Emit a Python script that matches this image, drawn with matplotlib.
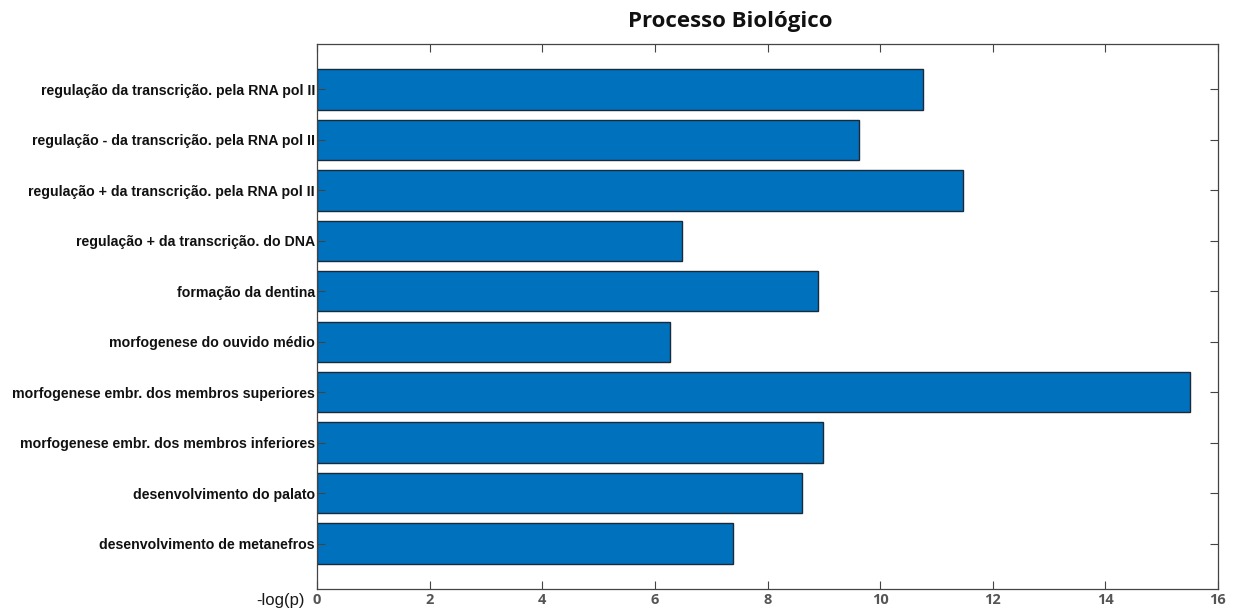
import matplotlib
matplotlib.use('Agg')
import matplotlib.pyplot as plt
import numpy as np


titulo = 'Processo Biológico'

termos = ['regulação da transcrição. pela RNA pol II',
          'regulação - da transcrição. pela RNA pol II',
          'regulação + da transcrição. pela RNA pol II',
          'regulação + da transcrição. do DNA',
          'formação da dentina',
          'morfogenese do ouvido médio',
          'morfogenese embr. dos membros superiores',
          'morfogenese embr. dos membros inferiores',
          'desenvolvimento do palato',
          'desenvolvimento de metanefros']

neglogp = [10.76, 9.62, 11.47, 6.49, 8.89, 6.26, 15.51, 8.98, 8.61, 7.38]

xticks = [0, 2, 4, 6, 8, 10, 12, 14, 16]


fig = plt.figure(figsize=(12.35, 6.13), dpi=100)
ax = fig.add_axes([317/1235, 1-589/613, (1218-317)/1235, (589-44)/613])

y_pos = np.arange(1, len(termos)+1)
ax.barh(y_pos, neglogp, height=0.8, color='#0072BD',
        edgecolor='#1a2a3a', linewidth=1.0)

ax.set_xlim(0, 16)
ax.set_ylim(len(termos)+0.9, 0.1)

ax.set_yticks(y_pos)
ax.set_yticklabels(termos, fontsize=10.2, fontweight='bold',
                   fontname='Liberation Sans', color='#111111')

ax.set_xticks(xticks)
ax.set_xticklabels([str(t) for t in xticks], fontsize=10.5,
                   fontweight='bold', fontname='Open Sans', color='#555555')

ax.tick_params(axis='both', direction='in', top=True, right=True,
               length=6, width=0.8, color='#444444')
ax.tick_params(axis='x', pad=3)
ax.tick_params(axis='y', pad=1.5)
for s in ax.spines.values():
    s.set_color('#444444')
    s.set_linewidth(0.9)

fig.text(305/1235, 1-600/613, '-log(p)', ha='right', va='center',
         fontsize=12, fontname='Liberation Sans', color='#1a1a1a')

fig.text(730/1235, 1-22/613, titulo, ha='center', va='center',
         fontsize=16, fontweight='bold', fontname='Open Sans', color='#111111')

fig.savefig('out.png', dpi=100)
